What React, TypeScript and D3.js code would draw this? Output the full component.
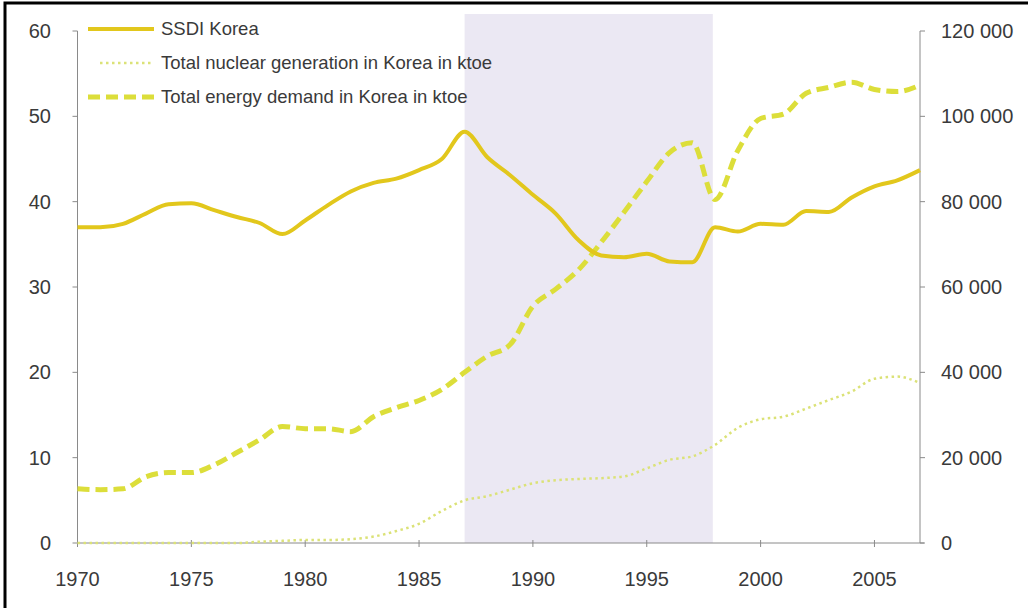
import { useEffect, useRef } from "react";
import * as d3 from "d3";

// values
const years = [
  1970, 1971, 1972, 1973, 1974, 1975, 1976, 1977, 1978, 1979,
  1980, 1981, 1982, 1983, 1984, 1985, 1986, 1987, 1988, 1989,
  1990, 1991, 1992, 1993, 1994, 1995, 1996, 1997, 1998, 1999,
  2000, 2001, 2002, 2003, 2004, 2005, 2006, 2007,
];

const ssdiKorea = [
  37.0, 37.0, 37.4, 38.6, 39.7, 39.8, 39.0, 38.2, 37.5, 36.2,
  37.8, 39.6, 41.2, 42.2, 42.7, 43.7, 45.0, 48.2, 45.2, 43.1,
  40.8, 38.6, 35.5, 33.7, 33.5, 33.9, 33.0, 32.9, 37.0, 36.5,
  37.4, 37.3, 38.9, 38.8, 40.5, 41.8, 42.5, 43.7,
];

const nuclearKtoe = [
  0, 0, 0, 0, 0, 0, 0, 0, 300, 500,
  700, 700, 900, 1500, 2800, 4500, 7500, 10000, 11000, 12500,
  14000, 14700, 15000, 15200, 15600, 17500, 19500, 20300, 23000, 27000,
  29000, 29600, 31500, 33500, 35500, 38500, 39000, 37500,
];

const energyDemandKtoe = [
  12700, 12500, 12700, 15500, 16500, 16500, 18300, 21200, 24200, 27300,
  26800, 26800, 26100, 29600, 31700, 33400, 36000, 40000, 43800, 46500,
  55500, 59500, 64000, 70500, 77500, 84700, 91500, 93800, 80500, 92000,
  99500, 100500, 105400, 106800, 108000, 106300, 105800, 107300,
];

const xTicks = [1970, 1975, 1980, 1985, 1990, 1995, 2000, 2005];
const leftTicks = [0, 10, 20, 30, 40, 50, 60];
const rightTicks = [0, 20000, 40000, 60000, 80000, 100000, 120000];
const shadedPeriod = [1987, 1997.9];

const legendLabels = [
  "SSDI Korea",
  "Total nuclear generation in Korea in ktoe",
  "Total energy demand in Korea in ktoe",
];

export default function App() {
  const svgRef = useRef<SVGSVGElement>(null);

  useEffect(() => {
    if (!svgRef.current) return;
    const width = 1028;
    const height = 608;
    const font = "'Liberation Sans', Arial, sans-serif";

    const svg = d3.select(svgRef.current);
    svg.selectAll("*").remove();

    svg.append("rect").attr("width", width).attr("height", height).attr("fill", "#ffffff");

    const x = d3.scaleLinear().domain([1970, 2007]).range([77.5, 920]);
    const yLeft = d3.scaleLinear().domain([0, 60]).range([543, 31]);
    const yRight = d3.scaleLinear().domain([0, 120000]).range([543, 31]);

    const spaceFormat = d3.formatLocale({
      decimal: ".",
      thousands: " ",
      grouping: [3],
      currency: ["", ""],
    }).format(",d");

    // shaded period
    svg
      .append("rect")
      .attr("x", x(shadedPeriod[0]))
      .attr("y", 14)
      .attr("width", x(shadedPeriod[1]) - x(shadedPeriod[0]))
      .attr("height", yLeft(0) - 14)
      .attr("fill", "#ebe8f3");

    // axes
    const axisColor = "#8a8a8a";
    svg
      .append("line")
      .attr("x1", x(1970))
      .attr("x2", x(1970))
      .attr("y1", yLeft(60))
      .attr("y2", yLeft(0))
      .attr("stroke", axisColor);
    svg
      .append("line")
      .attr("x1", x(2007))
      .attr("x2", x(2007))
      .attr("y1", yRight(120000))
      .attr("y2", yRight(0))
      .attr("stroke", axisColor);
    svg
      .append("line")
      .attr("x1", x(1970))
      .attr("x2", x(2007) + 4)
      .attr("y1", yLeft(0))
      .attr("y2", yLeft(0))
      .attr("stroke", axisColor);

    svg
      .selectAll(".tick-left")
      .data(leftTicks)
      .enter()
      .append("line")
      .attr("x1", x(1970) - 5)
      .attr("x2", x(1970))
      .attr("y1", (d) => yLeft(d))
      .attr("y2", (d) => yLeft(d))
      .attr("stroke", axisColor);

    svg
      .selectAll(".tick-right")
      .data(rightTicks)
      .enter()
      .append("line")
      .attr("x1", x(2007))
      .attr("x2", x(2007) + 5)
      .attr("y1", (d) => yRight(d))
      .attr("y2", (d) => yRight(d))
      .attr("stroke", axisColor);

    svg
      .selectAll(".tick-x")
      .data(xTicks)
      .enter()
      .append("line")
      .attr("x1", (d) => x(d))
      .attr("x2", (d) => x(d))
      .attr("y1", yLeft(0) - 3)
      .attr("y2", yLeft(0) + 4)
      .attr("stroke", axisColor);

    const labelColor = "#3a3a3a";

    svg
      .selectAll(".label-left")
      .data(leftTicks)
      .enter()
      .append("text")
      .attr("x", 51)
      .attr("y", (d) => yLeft(d))
      .attr("dy", "0.35em")
      .attr("text-anchor", "end")
      .attr("font-family", font)
      .attr("font-size", 20)
      .attr("fill", labelColor)
      .text((d) => String(d));

    svg
      .selectAll(".label-right")
      .data(rightTicks)
      .enter()
      .append("text")
      .attr("x", 941)
      .attr("y", (d) => yRight(d))
      .attr("dy", "0.35em")
      .attr("font-family", font)
      .attr("font-size", 20)
      .attr("fill", labelColor)
      .text((d) => spaceFormat(d));

    svg
      .selectAll(".label-x")
      .data(xTicks)
      .enter()
      .append("text")
      .attr("x", (d) => x(d))
      .attr("y", 586)
      .attr("text-anchor", "middle")
      .attr("font-family", font)
      .attr("font-size", 20)
      .attr("fill", labelColor)
      .text((d) => String(d));

    // series
    const lineLeft = d3
      .line<number>()
      .x((_, i) => x(years[i]))
      .y((d) => yLeft(d))
      .curve(d3.curveMonotoneX);

    const lineRight = d3
      .line<number>()
      .x((_, i) => x(years[i]))
      .y((d) => yRight(d))
      .curve(d3.curveMonotoneX);

    const styles = [
      { color: "#e2c71c", width: 4, dash: "none" },
      { color: "#dbe277", width: 2.5, dash: "2.5 3.5" },
      { color: "#dcde3a", width: 5, dash: "12 6" },
    ];

    svg
      .append("path")
      .datum(nuclearKtoe)
      .attr("d", lineRight)
      .attr("fill", "none")
      .attr("stroke", styles[1].color)
      .attr("stroke-width", styles[1].width)
      .attr("stroke-dasharray", styles[1].dash);

    svg
      .append("path")
      .datum(energyDemandKtoe)
      .attr("d", lineRight)
      .attr("fill", "none")
      .attr("stroke", styles[2].color)
      .attr("stroke-width", styles[2].width)
      .attr("stroke-dasharray", styles[2].dash);

    svg
      .append("path")
      .datum(ssdiKorea)
      .attr("d", lineLeft)
      .attr("fill", "none")
      .attr("stroke", styles[0].color)
      .attr("stroke-width", styles[0].width)
      .attr("stroke-linejoin", "round");

    // legend
    const legend = svg.append("g").attr("transform", "translate(88,29)");
    legendLabels.forEach((label, i) => {
      const row = legend.append("g").attr("transform", `translate(0,${i * 34})`);
      row
        .append("line")
        .attr("x1", i === 1 ? 12 : 0)
        .attr("x2", 66)
        .attr("y1", 0)
        .attr("y2", 0)
        .attr("stroke", styles[i].color)
        .attr("stroke-width", styles[i].width)
        .attr("stroke-dasharray", styles[i].dash);
      row
        .append("text")
        .attr("x", 73)
        .attr("y", 0)
        .attr("dy", "0.35em")
        .attr("font-family", font)
        .attr("font-size", 18.5)
        .attr("fill", labelColor)
        .text(label);
    });

    // frame (top and left edges visible)
    svg
      .append("rect")
      .attr("x", 5)
      .attr("y", 3)
      .attr("width", width + 20)
      .attr("height", height + 20)
      .attr("fill", "none")
      .attr("stroke", "#000000")
      .attr("stroke-width", 3);
  }, []);

  return (
    <svg
      ref={svgRef}
      width={1028}
      height={608}
      style={{ position: "absolute", left: 0, top: 0 }}
    />
  );
}
